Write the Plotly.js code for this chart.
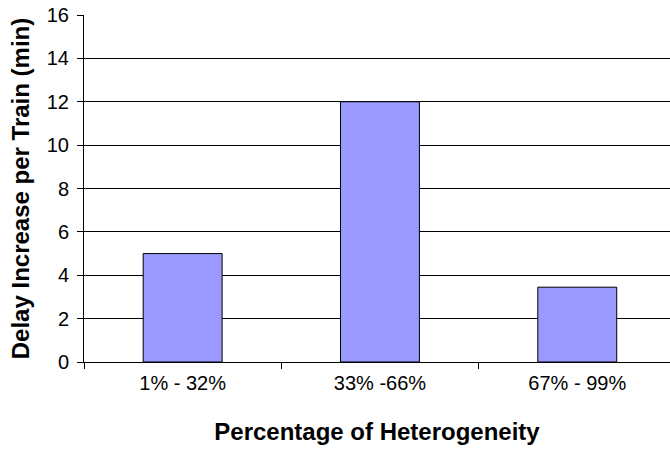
<!DOCTYPE html>
<html>
<head>
<meta charset="utf-8">
<script src="https://cdn.plot.ly/plotly-3.0.1.min.js"></script>
<style>html,body{margin:0;padding:0;background:#fff;}#chart{width:670px;height:449px;}</style>
</head>
<body>
<div id="chart"></div>
<script>
const categories = ["1% - 32%", "33% -66%", "67% - 99%"];
const delayIncrease = [5, 12, 3.45];
const yTicks = [0, 2, 4, 6, 8, 10, 12, 14, 16];

const trace = {
  type: "bar",
  x: categories,
  y: delayIncrease,
  width: 0.40,
  marker: { color: "#9999FF", line: { color: "#000000", width: 1 } },
  hoverinfo: "none"
};

const FONT = "Liberation Sans, Arial, sans-serif";

const layout = {
  width: 670,
  height: 449,
  margin: { l: 84, r: 0, t: 15, b: 87 },
  paper_bgcolor: "#ffffff",
  plot_bgcolor: "#ffffff",
  font: { family: FONT, color: "#000000", size: 20 },
  showlegend: false,
  xaxis: {
    type: "category",
    range: [-0.5, 2.47],
    tickson: "boundaries",
    ticks: "outside",
    ticklen: 6,
    tickcolor: "#000000",
    ticklabelstandoff: 3,
    showline: true,
    linecolor: "#000000",
    linewidth: 1,
    showgrid: false,
    zeroline: false,
    tickfont: { size: 20, family: FONT },
    title: { text: "Percentage of Heterogeneity", font: { size: 24, family: FONT, weight: "bold" }, standoff: 30 }
  },
  yaxis: {
    range: [0, 16],
    tickvals: yTicks,
    ticktext: yTicks.map(String),
    ticks: "outside",
    ticklen: 6,
    tickcolor: "#000000",
    ticklabelstandoff: 4,
    showline: true,
    linecolor: "#000000",
    linewidth: 1,
    showgrid: true,
    gridcolor: "#000000",
    gridwidth: 1,
    zeroline: false,
    tickfont: { size: 20, family: FONT },
    title: { text: "Delay Increase per Train (min)", font: { size: 24, family: FONT, weight: "bold" }, standoff: 10 }
  }
};

Plotly.newPlot("chart", [trace], layout, { displayModeBar: false, staticPlot: true });
</script>
</body>
</html>
